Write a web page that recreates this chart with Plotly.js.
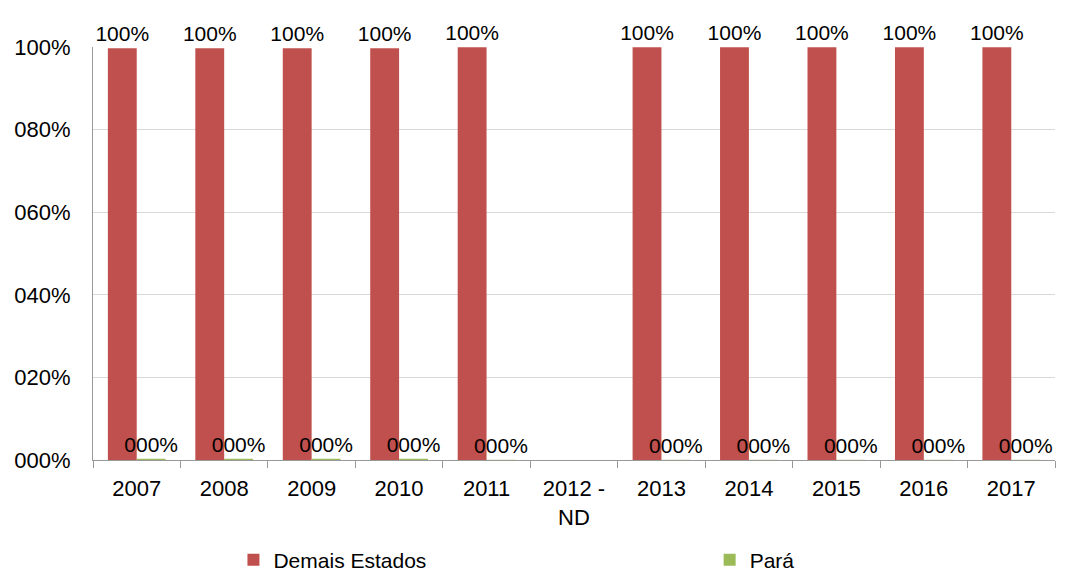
<!DOCTYPE html>
<html>
<head>
<meta charset="utf-8">
<script src="https://cdn.plot.ly/plotly-3.0.1.min.js"></script>
<style>html,body{margin:0;padding:0;background:#fff;}#chart{width:1068px;height:578px;}</style>
</head>
<body>
<div id="chart"></div>
<script>
var categories = ["2007", "2008", "2009", "2010", "2011", "2012 -<br>ND", "2013", "2014", "2015", "2016", "2017"];
var demaisEstados = [0.997, 0.997, 0.997, 0.997, 0.9995, null, 0.9995, 0.9995, 0.9995, 0.9995, 0.9995];
var para = [0.003, 0.003, 0.003, 0.003, 0.0005, null, 0.0005, 0.0005, 0.0005, 0.0005, 0.0005];
var yTickVals = [0, 0.2, 0.4, 0.6, 0.8, 1.0];
var yTickText = ["000%", "020%", "040%", "060%", "080%", "100%"];

function fmt(v) {
  if (v === null) return "";
  var s = String(Math.round(v * 100));
  while (s.length < 3) s = "0" + s;
  return s + "%";
}

var font = "Liberation Sans, Arial, sans-serif";
var traces = [
  {
    type: "bar", name: "Demais Estados", x: categories, y: demaisEstados,
    marker: {color: "#C0504D"}, legend: "legend",
    text: demaisEstados.map(fmt), textposition: "outside", constraintext: "none",
    cliponaxis: false, textfont: {family: font, size: 21, color: "#000"},
    hoverinfo: "x+y"
  },
  {
    type: "bar", name: "Pará", x: categories, y: para,
    marker: {color: "#9BBB59"}, legend: "legend2",
    text: para.map(fmt), textposition: "outside", constraintext: "none",
    cliponaxis: false, textfont: {family: font, size: 21, color: "#000"},
    hoverinfo: "x+y"
  }
];

var legendBase = {
  orientation: "h", y: -0.193, yanchor: "top", xanchor: "left",
  font: {family: font, size: 21, color: "#000"}, itemwidth: 30, bgcolor: "rgba(0,0,0,0)"
};

var layout = {
  width: 1068, height: 578,
  margin: {l: 93, r: 13, t: 47, b: 118, autoexpand: false},
  paper_bgcolor: "#fff", plot_bgcolor: "#fff",
  font: {family: font, size: 22, color: "#000"},
  barmode: "group", bargap: 0.34, bargroupgap: 0,
  showlegend: true,
  legend: Object.assign({}, legendBase, {x: 0.146}),
  legend2: Object.assign({}, legendBase, {x: 0.641}),
  xaxis: {
    type: "category", tickson: "boundaries", ticks: "outside", ticklen: 7,
    tickcolor: "#999", showline: true, linecolor: "#999", linewidth: 1,
    showgrid: false, tickfont: {family: font, size: 22, color: "#000"},
    ticklabelstandoff: 9, automargin: false, fixedrange: true
  },
  yaxis: {
    range: [0, 1], tickvals: yTickVals, ticktext: yTickText,
    showgrid: true, gridcolor: "#D9D9D9", gridwidth: 1,
    showline: true, linecolor: "#999", linewidth: 1,
    ticks: "", zeroline: false, ticklabelstandoff: 17,
    tickfont: {family: font, size: 22, color: "#000"},
    automargin: false, fixedrange: true
  }
};

Plotly.newPlot("chart", traces, layout, {displayModeBar: false, staticPlot: true});
</script>
</body>
</html>
